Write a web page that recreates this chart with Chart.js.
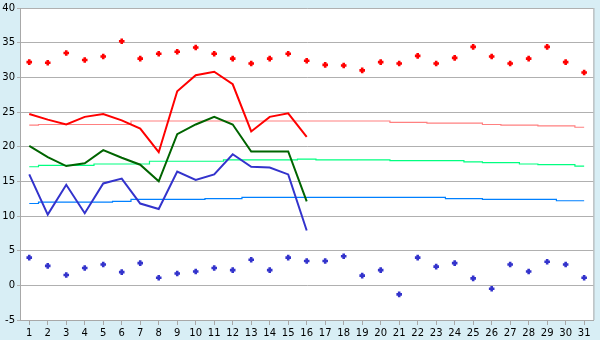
<!DOCTYPE html>
<html>
<head>
<meta charset="utf-8">
<script src="https://cdn.jsdelivr.net/npm/chart.js@4"></script>
<style>
  html, body { margin: 0; padding: 0; background: #d8eef5; }
  #wrap { width: 600px; height: 340px; }
</style>
</head>
<body>
<div id="wrap"><canvas id="chart" width="600" height="340"></canvas></div>
<script>
// --- datos ---
const days = ['1','2','3','4','5','6','7','8','9','10','11','12','13','14','15','16',
  '17','18','19','20','21','22','23','24','25','26','27','28','29','30','31'];

// máximas absolutas (puntos rojos)
const maxAbs = [32.2, 32.1, 33.5, 32.5, 33.0, 35.2, 32.7, 33.4, 33.7, 34.3, 33.4, 32.7, 32.0, 32.7, 33.4, 32.4,
  31.8, 31.7, 31.0, 32.2, 32.0, 33.1, 32.0, 32.8, 34.4, 33.0, 32.0, 32.7, 34.4, 32.2, 30.7];
// mínimas absolutas (puntos azules)
const minAbs = [4.0, 2.8, 1.5, 2.5, 3.0, 1.9, 3.2, 1.1, 1.7, 2.0, 2.5, 2.2, 3.7, 2.2, 4.0, 3.5,
  3.5, 4.2, 1.4, 2.2, -1.3, 4.0, 2.7, 3.2, 1.0, -0.5, 3.0, 2.0, 3.4, 3.0, 1.1];

// valores del mes (solo 16 días)
const maxDay = [24.7, 23.9, 23.2, 24.3, 24.7, 23.8, 22.6, 19.2, 28.0, 30.3, 30.8, 29.0, 22.2, 24.3, 24.8, 21.4];
const meanDay = [20.1, 18.5, 17.2, 17.6, 19.5, 18.4, 17.4, 15.0, 21.8, 23.2, 24.3, 23.2, 19.3, 19.3, 19.3, 12.1];
const minDay = [16.0, 10.2, 14.5, 10.4, 14.7, 15.4, 11.8, 11.0, 16.4, 15.2, 16.0, 18.9, 17.1, 17.0, 16.0, 7.9];

// normales
const maxNormal = [23.1, 23.2, 23.2, 23.2, 23.2, 23.2, 23.7, 23.7, 23.7, 23.7, 23.7, 23.7, 23.7, 23.7, 23.7, 23.7,
  23.7, 23.7, 23.7, 23.7, 23.5, 23.5, 23.4, 23.4, 23.4, 23.2, 23.1, 23.1, 23.0, 23.0, 22.8];
const meanNormal = [17.1, 17.3, 17.3, 17.3, 17.5, 17.5, 17.5, 17.9, 17.9, 17.9, 17.9, 18.1, 18.1, 18.1, 18.1, 18.2,
  18.1, 18.1, 18.1, 18.1, 18.0, 18.0, 18.0, 18.0, 17.8, 17.7, 17.7, 17.5, 17.4, 17.4, 17.2];
const minNormal = [11.8, 12.0, 12.0, 12.0, 12.0, 12.1, 12.4, 12.4, 12.4, 12.4, 12.5, 12.5, 12.7, 12.7, 12.7, 12.7,
  12.7, 12.7, 12.7, 12.7, 12.7, 12.7, 12.7, 12.5, 12.5, 12.4, 12.4, 12.4, 12.4, 12.2, 12.2];

const yTicks = [-5, 0, 5, 10, 15, 20, 25, 30, 35, 40];

// --- fondo y marco ---
const framePlugin = {
  id: 'frame',
  beforeDraw(chart) {
    const { ctx, chartArea: a } = chart;
    ctx.save();
    ctx.fillStyle = '#d8eef5';
    ctx.fillRect(0, 0, chart.width, chart.height);
    ctx.fillStyle = '#ffffff';
    ctx.fillRect(a.left, a.top, a.right - a.left, a.bottom - a.top);
    ctx.restore();
  },
  afterDraw(chart) {
    const { ctx, chartArea: a } = chart;
    ctx.save();
    ctx.strokeStyle = '#a8a8a8';
    ctx.lineWidth = 1;
    ctx.beginPath();
    ctx.moveTo(a.right + 0.5, a.top);
    ctx.lineTo(a.right + 0.5, a.bottom);
    ctx.stroke();
    ctx.restore();
  }
};

const stepLine = (data, color) => ({
  type: 'line', data, borderColor: color, borderWidth: 1.2, pointRadius: 0,
  stepped: 'middle', fill: false, order: 5
});
const dayLine = (data, color) => ({
  type: 'line', data, borderColor: color, borderWidth: 2, pointRadius: 0,
  fill: false, tension: 0, order: 3
});
const dots = (data, color) => ({
  type: 'line', data, showLine: false, pointStyle: 'cross', pointRadius: 2.8,
  pointBorderWidth: 2.6, pointBorderColor: color, pointBackgroundColor: color,
  borderColor: color, order: 1
});

Chart.defaults.font.family = "'DejaVu Sans', Verdana, sans-serif";
Chart.defaults.font.size = 10;
Chart.defaults.color = '#000000';

new Chart(document.getElementById('chart'), {
  type: 'line',
  data: {
    labels: days,
    datasets: [
      stepLine(maxNormal, '#ff8080'),
      stepLine(meanNormal, '#00ff80'),
      stepLine(minNormal, '#0080ff'),
      dayLine(maxDay, '#ff0000'),
      dayLine(meanDay, '#006400'),
      dayLine(minDay, '#3333cc'),
      dots(maxAbs, '#ff0000'),
      dots(minAbs, '#3333cc')
    ]
  },
  options: {
    responsive: false,
    animation: false,
    layout: { padding: { top: 5, right: 5, left: 0, bottom: 0 } },
    plugins: { legend: { display: false }, tooltip: { enabled: false } },
    scales: {
      x: {
        type: 'category',
        offset: true,
        grid: { drawOnChartArea: false, drawTicks: true, tickLength: 5, color: '#a8a8a8' },
        border: { color: '#a8a8a8' },
        ticks: { padding: 2, maxRotation: 0, autoSkip: false },
        afterFit(scale) { scale.height = 20; }
      },
      y: {
        min: -5, max: 40,
        afterBuildTicks(scale) { scale.ticks = yTicks.map(v => ({ value: v })); },
        grid: { color: '#b0b0b0', tickLength: 3 },
        border: { color: '#a8a8a8' },
        ticks: { padding: 2 },
        afterFit(scale) { scale.width = 20; }
      }
    }
  },
  plugins: [framePlugin]
});
</script>
</body>
</html>
